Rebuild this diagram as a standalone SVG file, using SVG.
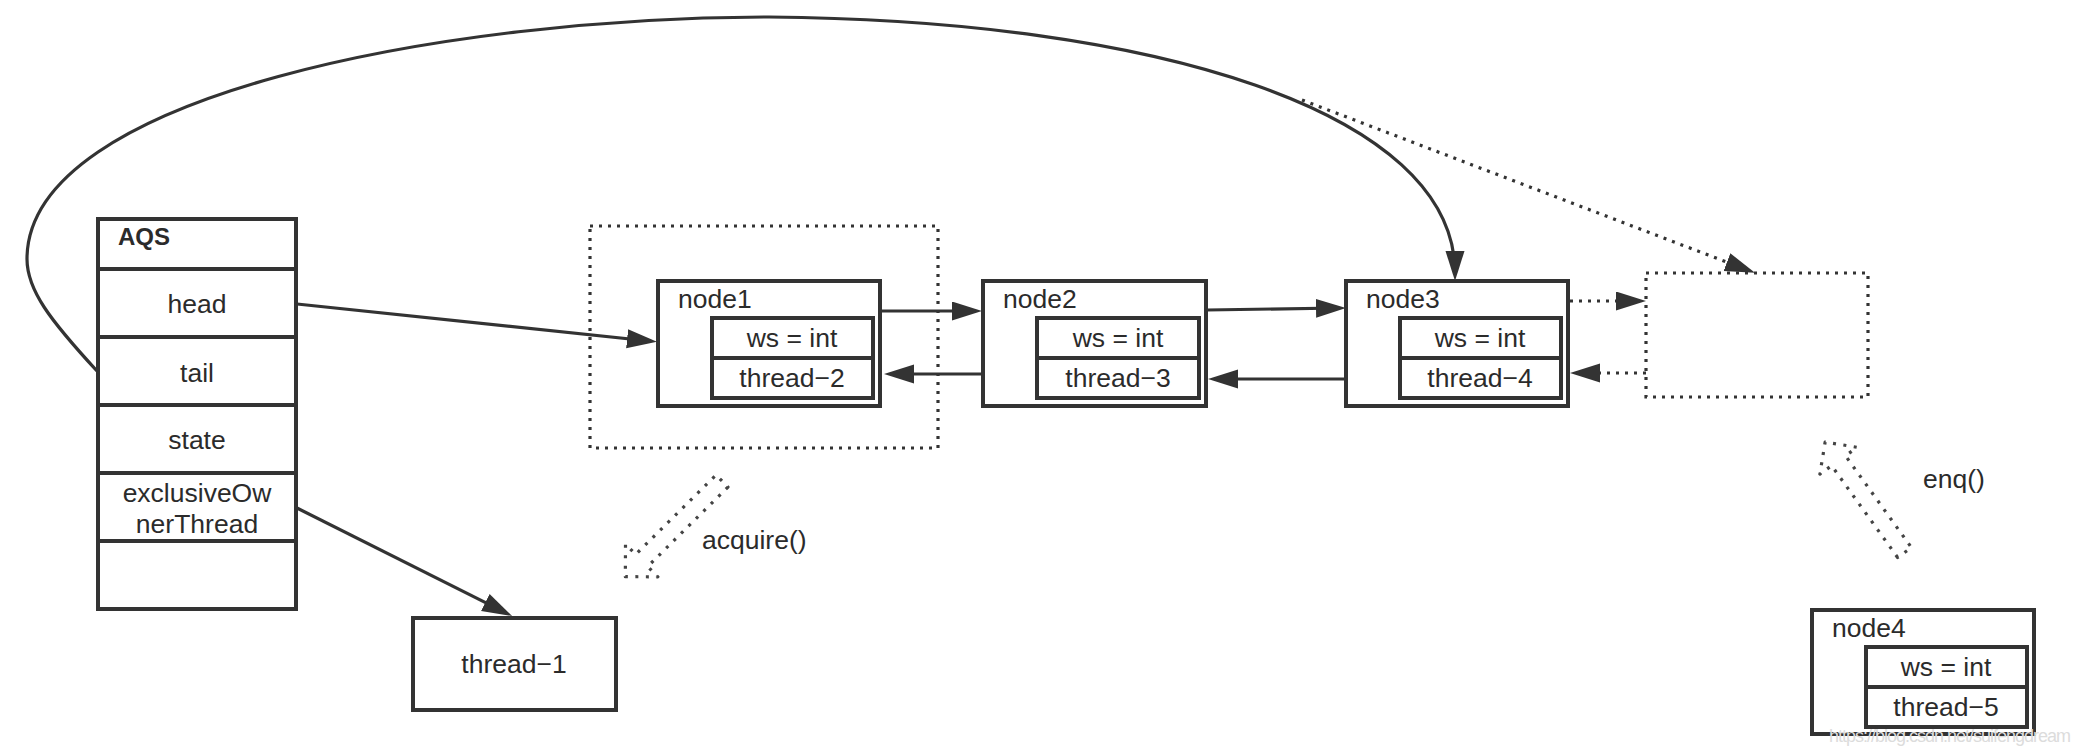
<svg xmlns="http://www.w3.org/2000/svg" width="2080" height="756" viewBox="0 0 2080 756">
<style>
  .box{fill:#fff;stroke:#333;stroke-width:4}
  .sep{stroke:#333;stroke-width:4}
  .dbox{fill:none;stroke:#333;stroke-width:3.2;stroke-dasharray:3 6}
  .t{font-family:"Liberation Sans",Arial,Helvetica,sans-serif;font-size:26.5px;fill:#2b2b2b}
  .c{text-anchor:middle}
  .ln{fill:none;stroke:#333;stroke-width:3.2}
  .dl{fill:none;stroke:#333;stroke-width:3.2;stroke-dasharray:3 6}
  .ha{fill:none;stroke:#444;stroke-width:3.2;stroke-dasharray:3 7.5;stroke-linejoin:round}
</style>
<defs>
  <marker id="ah" markerUnits="userSpaceOnUse" markerWidth="32" markerHeight="22" refX="22" refY="9.5" orient="auto">
    <path d="M0,0 L30,9.5 L0,19 z" fill="#333"/>
  </marker>
  <path id="hollow" d="M0,-8.5 L113,-8.5 L113,-23 L136,0 L113,23 L113,8.5 L0,8.5 Z"/>
</defs>
<rect width="2080" height="756" fill="#fff"/>

<g id="connectors">
  <path class="ln" d="M97,371 C50,320 27,290 27,259 C27,95 450,17 769,17 C1150,20 1455,110 1455,273" marker-end="url(#ah)"/>
  <path class="dl" d="M1302,100 L1747.5,270" marker-end="url(#ah)"/>
  <path class="ln" d="M297,304 L649,341" marker-end="url(#ah)"/>
  <path class="ln" d="M297,508 L505,612.4" marker-end="url(#ah)"/>
  <path class="ln" d="M882,311 L974,311" marker-end="url(#ah)"/>
  <path class="ln" d="M983,374 L892,374" marker-end="url(#ah)"/>
  <path class="ln" d="M1207,310 L1338,308" marker-end="url(#ah)"/>
  <path class="ln" d="M1346,379 L1216,379" marker-end="url(#ah)"/>
  <path class="dl" d="M1570,301 L1638,301" marker-end="url(#ah)"/>
  <path class="dl" d="M1646,373 L1578,373" marker-end="url(#ah)"/>
</g>

<g id="aqs">
  <rect class="box" x="98" y="219" width="198" height="390"/>
  <line class="sep" x1="98" y1="269" x2="296" y2="269"/>
  <line class="sep" x1="98" y1="337" x2="296" y2="337"/>
  <line class="sep" x1="98" y1="405" x2="296" y2="405"/>
  <line class="sep" x1="98" y1="473" x2="296" y2="473"/>
  <line class="sep" x1="98" y1="541" x2="296" y2="541"/>
  <text class="t" x="118" y="245" style="font-weight:bold;font-size:24px">AQS</text>
  <text class="t c" x="197" y="313">head</text>
  <text class="t c" x="197" y="382">tail</text>
  <text class="t c" x="197" y="449">state</text>
  <text class="t c" x="197" y="502">exclusiveOw</text>
  <text class="t c" x="197" y="533">nerThread</text>
</g>

<g id="thread1">
  <rect class="box" x="413" y="618" width="203" height="92"/>
  <text class="t c" x="514" y="673">thread−1</text>
</g>

<g id="head-group">
  <rect class="dbox" x="590" y="226" width="348" height="222"/>
</g>

<g id="node1">
  <rect class="box" x="658" y="281" width="222" height="125"/>
  <text class="t" x="678" y="308">node1</text>
  <rect class="box" x="712" y="318" width="161" height="80"/>
  <line class="sep" x1="712" y1="358" x2="873" y2="358"/>
  <text class="t c" x="792" y="347">ws = int</text>
  <text class="t c" x="792" y="387">thread−2</text>
</g>

<g id="node2">
  <rect class="box" x="983" y="281" width="223" height="125"/>
  <text class="t" x="1003" y="308">node2</text>
  <rect class="box" x="1037" y="318" width="162" height="80"/>
  <line class="sep" x1="1037" y1="358" x2="1199" y2="358"/>
  <text class="t c" x="1118" y="347">ws = int</text>
  <text class="t c" x="1118" y="387">thread−3</text>
</g>

<g id="node3">
  <rect class="box" x="1346" y="281" width="222" height="125"/>
  <text class="t" x="1366" y="308">node3</text>
  <rect class="box" x="1400" y="318" width="161" height="80"/>
  <line class="sep" x1="1400" y1="358" x2="1561" y2="358"/>
  <text class="t c" x="1480" y="347">ws = int</text>
  <text class="t c" x="1480" y="387">thread−4</text>
</g>

<g id="new-tail">
  <rect class="dbox" x="1646" y="273" width="222" height="124"/>
</g>

<g id="node4">
  <rect class="box" x="1812" y="610" width="222" height="124"/>
  <text class="t" x="1832" y="637">node4</text>
  <rect class="box" x="1866" y="647" width="161" height="80"/>
  <line class="sep" x1="1866" y1="687" x2="2027" y2="687"/>
  <text class="t c" x="1946" y="676">ws = int</text>
  <text class="t c" x="1946" y="716">thread−5</text>
</g>

<g id="acquire">
  <use href="#hollow" class="ha" transform="translate(722,481) rotate(135.3)"/>
  <text class="t" x="702" y="549">acquire()</text>
</g>

<g id="enq">
  <use href="#hollow" class="ha" transform="translate(1904.5,552.5) rotate(-125.7)"/>
  <text class="t" x="1923" y="488">enq()</text>
</g>

<text x="1829" y="742" textLength="242" style="font-family:'Liberation Sans',Arial,sans-serif;font-size:18px;fill:#dcdcdc">https://blog.csdn.net/suifengdream</text>
</svg>
